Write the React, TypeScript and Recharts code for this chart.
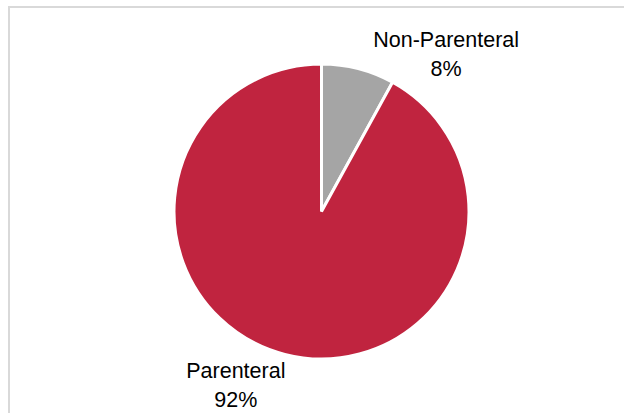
import React from "react";
import { PieChart, Pie, Cell } from "recharts";

const categories = ["Non-Parenteral", "Parenteral"];
const shares = [8, 92];
const colors = ["#A5A5A5", "#C0243F"];

const data = categories.map((name, i) => ({ name, value: shares[i] }));

const RAD = Math.PI / 180;
const LABEL_SHIFT = [
  { dx: 83, dy: -2 },
  { dx: -44, dy: 4 },
];

const renderLabel = (props: any) => {
  const { cx, cy, midAngle, outerRadius, name, percent, index } = props;
  const r = outerRadius + 20;
  const x = cx + r * Math.cos(-midAngle * RAD) + LABEL_SHIFT[index].dx;
  const y = cy + r * Math.sin(-midAngle * RAD) + LABEL_SHIFT[index].dy;
  return (
    <text
      x={x}
      y={y}
      textAnchor="middle"
      fill="#000000"
      fontFamily="'Liberation Sans', Arial, sans-serif"
      fontSize={21.5}
    >
      <tspan x={x} y={y}>{name}</tspan>
      <tspan x={x} y={y + 29}>{`${Math.round(percent * 100)}%`}</tspan>
    </text>
  );
};

export default function App() {
  return (
    <div style={{ position: "absolute", left: 0, top: 0, width: 624, height: 413, background: "#ffffff", overflow: "hidden" }}>
      <div style={{ position: "absolute", left: 8, top: 6, width: 640, height: 2, background: "#d9d9d9" }} />
      <div style={{ position: "absolute", left: 8, top: 6, width: 2, height: 420, background: "#d9d9d9" }} />
      <div style={{ position: "absolute", left: 0, top: 0 }}>
        <PieChart width={624} height={413} margin={{ top: 0, right: 0, bottom: 0, left: 0 }}>
          <Pie
            data={data}
            dataKey="value"
            nameKey="name"
            cx={321.5}
            cy={211.5}
            outerRadius={147.5}
            startAngle={90}
            endAngle={-270}
            stroke="#ffffff"
            strokeWidth={3}
            label={renderLabel}
            labelLine={false}
            isAnimationActive={false}
          >
            {data.map((d, i) => (
              <Cell key={d.name} fill={colors[i]} />
            ))}
          </Pie>
        </PieChart>
      </div>
    </div>
  );
}
